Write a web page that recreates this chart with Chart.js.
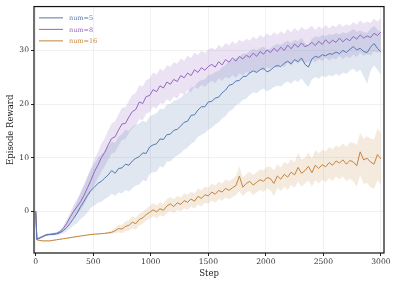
<!DOCTYPE html>
<html>
<head>
<meta charset="utf-8">
<script src="https://cdn.jsdelivr.net/npm/chart.js@4.4.1/dist/chart.umd.min.js"></script>
<style>
  html, body { margin: 0; padding: 0; background: #fff; }
  #wrap { width: 398px; height: 285px; }
</style>
</head>
<body>
<div id="wrap"><canvas id="rewardChart" width="398" height="285"></canvas></div>
<script>
// Training steps (x values shared by all runs)
const steps = [0, 10,
  30, 60, 90, 120, 150, 180, 210, 240, 270, 300,
  330, 360, 390, 420, 450, 480, 510, 540, 570, 600,
  630, 660, 690, 720, 750, 780, 810, 840, 870, 900,
  930, 960, 990, 1020, 1050, 1080, 1110, 1140, 1170, 1200,
  1230, 1260, 1290, 1320, 1350, 1380, 1410, 1440, 1470, 1500,
  1530, 1560, 1590, 1620, 1650, 1680, 1710, 1740, 1770, 1800,
  1830, 1860, 1890, 1920, 1950, 1980, 2010, 2040, 2070, 2100,
  2130, 2160, 2190, 2220, 2250, 2280, 2310, 2340, 2370, 2400,
  2430, 2460, 2490, 2520, 2550, 2580, 2610, 2640, 2670, 2700,
  2730, 2760, 2790, 2820, 2850, 2880, 2910, 2940, 2970, 3000];

// num=5
const num5Mean = [0, -5.2,
  -5.0, -4.7, -4.4, -4.3, -4.3, -4.2, -4.0, -3.6, -3.0, -2.2,
  -1.3, -0.3, 0.9, 1.9, 3.0, 3.9, 4.5, 5.2, 5.6, 6.2,
  6.8, 7.6, 7.1, 8.0, 8.1, 8.8, 8.6, 9.4, 9.9, 10.2,
  10.9, 10.8, 12.0, 12.4, 12.6, 13.5, 13.4, 14.3, 14.4, 15.1,
  15.3, 15.9, 16.6, 16.8, 17.9, 18.0, 18.9, 19.5, 19.5, 20.4,
  20.5, 21.1, 21.3, 22.1, 22.6, 23.5, 23.7, 24.3, 24.4, 25.1,
  25.2, 25.8, 26.2, 25.9, 26.4, 26.7, 26.0, 26.3, 26.9, 27.2,
  27.0, 27.6, 28.0, 27.5, 28.3, 27.9, 28.6, 27.4, 26.9, 28.4,
  28.9, 28.7, 29.2, 29.0, 29.4, 29.3, 29.7, 29.4, 30.0, 29.6,
  30.2, 30.7, 30.1, 30.4, 29.8, 29.6, 30.6, 31.3, 30.4, 29.7];
const num5Low = [0, -5.4,
  -5.2, -4.9, -4.6, -4.5, -4.5, -4.4, -4.3, -4.1, -3.7, -3.2,
  -2.6, -2.2, -1.4, -0.9, -0.2, 0.7, 1.1, 1.6, 1.8, 2.3,
  2.7, 3.3, 2.9, 3.5, 3.4, 4.0, 3.7, 4.3, 4.8, 5.0,
  5.8, 5.6, 7.0, 7.3, 7.4, 8.4, 8.2, 9.3, 9.3, 10.0,
  10.4, 10.9, 11.5, 11.9, 12.6, 13.0, 13.9, 14.3, 14.6, 15.2,
  15.6, 16.2, 16.6, 17.3, 17.8, 18.6, 19.0, 19.8, 20.1, 20.8,
  21.0, 21.7, 22.2, 22.0, 22.6, 22.9, 22.4, 22.7, 23.2, 23.4,
  23.3, 23.9, 24.2, 23.8, 24.5, 24.1, 24.8, 23.9, 23.2, 24.6,
  25.0, 24.7, 25.3, 25.0, 25.4, 25.2, 25.6, 25.3, 25.9, 25.6,
  26.2, 26.6, 26.0, 26.4, 25.2, 23.8, 26.2, 27.2, 26.4, 25.5];
const num5High = [0, -5.0,
  -4.8, -4.5, -4.2, -4.1, -4.1, -3.9, -3.6, -3.0, -2.1, -0.9,
  0.6, 1.9, 3.6, 5.0, 6.6, 7.9, 8.9, 10.0, 10.6, 11.3,
  12.1, 13.0, 12.8, 13.9, 14.4, 15.2, 15.0, 15.8, 16.1, 16.4,
  16.9, 16.6, 17.7, 18.0, 18.3, 19.2, 19.0, 19.9, 20.0, 20.6,
  20.8, 21.2, 21.9, 22.2, 23.1, 23.3, 24.1, 24.5, 24.6, 25.4,
  25.5, 26.0, 26.2, 26.8, 27.3, 28.0, 28.2, 28.6, 28.8, 29.4,
  29.4, 29.9, 30.3, 30.0, 30.5, 30.7, 30.1, 30.4, 30.9, 31.2,
  31.0, 31.5, 31.8, 31.4, 32.0, 31.7, 32.3, 31.4, 30.9, 32.2,
  32.6, 32.5, 32.9, 32.7, 33.0, 32.9, 33.2, 33.0, 33.4, 33.1,
  33.6, 34.0, 33.5, 33.7, 33.4, 33.3, 34.0, 34.6, 33.9, 33.4];

// num=8
const num8Mean = [0, -5.2,
  -5.0, -4.7, -4.4, -4.3, -4.2, -4.1, -3.8, -3.2, -2.2, -1.0,
  0.0, 0.9, 1.8, 3.0, 4.4, 5.8, 7.4, 8.6, 10.0, 11.0,
  12.4, 13.6, 13.9, 15.2, 16.3, 16.4, 17.6, 18.6, 19.0, 20.4,
  20.1, 21.4, 21.6, 22.7, 22.3, 23.4, 23.0, 24.1, 23.7, 24.6,
  24.2, 25.3, 24.9, 25.8, 25.3, 26.4, 25.9, 26.8, 26.3, 27.0,
  27.4, 26.9, 27.9, 27.3, 28.3, 27.8, 28.6, 28.0, 28.9, 28.4,
  29.1, 28.7, 29.5, 28.9, 29.8, 29.3, 30.1, 29.6, 30.4, 29.8,
  30.6, 30.0, 31.0, 30.3, 31.2, 30.6, 31.4, 30.7, 31.0, 31.5,
  30.9, 31.7, 31.1, 32.0, 31.3, 31.9, 31.5, 32.3, 31.6, 32.2,
  31.8, 32.6, 32.1, 32.9, 32.3, 32.7, 32.4, 33.2, 32.8, 33.4];
const num8Low = [0, -5.4,
  -5.2, -4.9, -4.6, -4.5, -4.4, -4.3, -4.1, -3.7, -2.9, -2.0,
  -1.2, -0.5, 0.2, 1.2, 2.5, 3.6, 5.0, 6.2, 7.4, 8.4,
  9.6, 10.8, 11.0, 12.3, 13.3, 13.5, 14.6, 15.5, 16.0, 17.2,
  17.0, 18.2, 18.5, 19.5, 19.2, 20.2, 20.0, 20.9, 20.5, 21.4,
  21.0, 22.1, 21.8, 22.6, 22.2, 23.2, 22.8, 23.6, 23.2, 23.9,
  24.3, 23.9, 24.8, 24.3, 25.1, 24.7, 25.4, 24.9, 25.7, 25.3,
  26.0, 25.6, 26.3, 25.8, 26.6, 26.2, 26.9, 26.5, 27.2, 26.7,
  27.4, 26.9, 27.7, 27.1, 28.0, 27.5, 28.1, 27.6, 27.8, 28.2,
  27.8, 28.4, 28.0, 28.7, 28.1, 28.6, 28.3, 29.0, 28.4, 28.9,
  28.6, 29.2, 28.8, 29.5, 29.0, 29.3, 29.1, 29.8, 29.5, 30.0];
const num8High = [0, -5.0,
  -4.8, -4.5, -4.2, -4.1, -4.0, -3.9, -3.5, -2.7, -1.5, -0.1,
  1.2, 2.3, 3.4, 4.8, 6.3, 8.0, 9.8, 11.0, 12.6, 13.6,
  15.1, 16.4, 16.8, 18.1, 19.3, 19.4, 20.6, 21.7, 22.1, 23.5,
  23.3, 24.5, 24.7, 25.9, 25.5, 26.6, 26.2, 27.3, 26.9, 27.8,
  27.5, 28.5, 28.1, 29.0, 28.6, 29.6, 29.1, 30.0, 29.5, 30.2,
  30.5, 30.1, 31.0, 30.5, 31.4, 30.9, 31.7, 31.2, 32.0, 31.6,
  32.2, 31.8, 32.6, 32.1, 32.9, 32.4, 33.2, 32.7, 33.4, 32.9,
  33.6, 33.1, 34.0, 33.4, 34.2, 33.6, 34.4, 33.8, 34.1, 34.6,
  33.8, 34.5, 34.0, 34.8, 34.1, 34.7, 34.3, 35.0, 34.4, 34.9,
  34.6, 35.3, 34.8, 35.6, 35.0, 35.4, 35.1, 35.9, 35.4, 36.0];

// num=16
const num16Mean = [0, -5.3,
  -5.4, -5.5, -5.5, -5.5, -5.4, -5.3, -5.2, -5.1, -5.0, -4.9,
  -4.8, -4.7, -4.6, -4.5, -4.4, -4.3, -4.25, -4.2, -4.15, -4.1,
  -4.0, -3.9, -3.6, -3.2, -3.3, -2.8, -2.6, -2.0, -2.3, -1.5,
  -1.2, -0.6, -0.2, 0.3, -0.1, 0.5, 0.2, 1.0, 1.4, 0.9,
  1.6, 1.3, 2.0, 1.7, 2.3, 1.9, 2.8, 2.4, 3.1, 2.9,
  3.6, 3.2, 3.9, 3.6, 4.3, 3.9, 4.4, 4.8, 6.6, 4.5,
  5.2, 5.6, 4.9, 5.4, 5.9, 5.6, 6.3, 6.1, 5.2, 6.6,
  6.0, 6.9, 6.4, 7.3, 6.8, 8.2, 7.1, 7.6, 8.4, 7.2,
  8.6, 8.0, 8.7, 8.3, 9.1, 8.6, 9.4, 9.0, 9.6, 8.8,
  9.5, 9.2, 8.5, 11.1, 9.6, 9.9, 9.2, 8.8, 10.6, 9.8];
const num16Low = [0, -5.4,
  -5.5, -5.6, -5.6, -5.6, -5.5, -5.4, -5.3, -5.2, -5.1, -5.0,
  -4.9, -4.8, -4.7, -4.6, -4.5, -4.4, -4.35, -4.3, -4.25, -4.2,
  -4.2, -4.2, -4.1, -3.9, -4.1, -3.7, -3.6, -3.1, -3.4, -2.6,
  -2.3, -1.7, -1.4, -0.9, -1.3, -0.7, -1.0, -0.3, 0.1, -0.4,
  0.3, 0.0, 0.6, 0.3, 0.9, 0.5, 1.3, 0.9, 1.6, 1.4,
  2.0, 1.6, 2.3, 2.0, 2.6, 2.2, 2.7, 3.0, 3.8, 2.8,
  3.5, 3.8, 3.0, 3.5, 4.0, 3.6, 4.3, 3.9, 2.8, 4.4,
  3.8, 4.6, 4.0, 4.9, 4.4, 5.5, 4.6, 5.2, 5.8, 4.6,
  5.8, 5.2, 5.9, 5.4, 6.2, 5.6, 6.5, 6.0, 6.5, 5.6,
  6.1, 5.6, 4.6, 6.8, 5.1, 5.3, 4.5, 4.2, 5.8, 5.0];
const num16High = [0, -5.2,
  -5.3, -5.4, -5.4, -5.4, -5.3, -5.2, -5.1, -5.0, -4.9, -4.8,
  -4.7, -4.6, -4.5, -4.4, -4.3, -4.2, -4.15, -4.1, -4.05, -4.0,
  -3.8, -3.6, -3.1, -2.5, -2.5, -1.9, -1.6, -0.9, -1.2, -0.4,
  -0.1, 0.5, 1.0, 1.5, 1.1, 1.7, 1.4, 2.3, 2.7, 2.2,
  2.9, 2.6, 3.4, 3.1, 3.7, 3.3, 4.3, 3.9, 4.6, 4.4,
  5.2, 4.8, 5.5, 5.2, 6.0, 5.6, 6.1, 6.6, 8.4, 6.2,
  6.9, 7.4, 6.8, 7.3, 7.8, 7.6, 8.3, 8.3, 7.6, 8.8,
  8.2, 9.2, 8.8, 9.7, 9.2, 10.9, 9.6, 10.0, 11.0, 9.8,
  11.4, 10.8, 11.5, 11.2, 12.0, 11.6, 12.3, 12.0, 12.7, 12.0,
  12.9, 12.8, 12.4, 14.6, 13.5, 14.0, 13.6, 13.4, 15.4, 14.6];

const seriesNames = ['num=5', 'num=8', 'num=16'];
const lineColors = ['#5578b0', '#9467bd', '#c4843e'];
const bandColors = ['rgba(85,120,176,0.18)', 'rgba(148,103,189,0.19)', 'rgba(196,132,62,0.17)'];
const xTicks = [0, 500, 1000, 1500, 2000, 2500, 3000];
const yTicks = [0, 10, 20, 30];

const means = [num5Mean, num8Mean, num16Mean];
const lows = [num5Low, num8Low, num16Low];
const highs = [num5High, num8High, num16High];

const pts = arr => steps.map((s, i) => ({x: s, y: arr[i]}));

const datasets = [];
means.forEach((m, k) => {
    const lowIndex = datasets.length;
    datasets.push({
        data: pts(lows[k]), borderWidth: 0, pointRadius: 0,
        fill: false, order: 2
    });
    datasets.push({
        data: pts(highs[k]), borderWidth: 0, pointRadius: 0,
        backgroundColor: bandColors[k], fill: {target: lowIndex}, order: 2
    });
});
means.forEach((m, k) => {
    datasets.push({
        label: seriesNames[k], data: pts(m), borderColor: lineColors[k],
        borderWidth: 1, pointRadius: 0, fill: false, order: 0
    });
});

// frame around the plot + legend in the upper left corner
const frameLegend = {
    id: 'frameLegend',
    afterDraw(chart) {
        const {ctx, chartArea: a} = chart;
        ctx.save();
        ctx.strokeStyle = '#111';
        ctx.lineWidth = 1.2;
        ctx.strokeRect(a.left, a.top, a.right - a.left, a.bottom - a.top);
        ctx.font = '6.5px "DejaVu Serif"';
        ctx.textBaseline = 'middle';
        seriesNames.forEach((name, i) => {
            const y = a.top + 11.3 + i * 11.5;
            ctx.strokeStyle = lineColors[i];
            ctx.lineWidth = 1;
            ctx.beginPath();
            ctx.moveTo(a.left + 5, y);
            ctx.lineTo(a.left + 29, y);
            ctx.stroke();
            ctx.fillStyle = lineColors[i];
            ctx.fillText(name, a.left + 35, y + 0.5);
        });
        ctx.restore();
    }
};

const tickFont = {family: 'DejaVu Serif', size: 7.6};
const titleFont = {family: 'DejaVu Serif', size: 8.5};

new Chart(document.getElementById('rewardChart'), {
    type: 'line',
    data: {datasets: datasets},
    options: {
        responsive: false,
        animation: false,
        layout: {padding: {top: 6, right: 14, left: 0, bottom: 0}},
        plugins: {legend: {display: false}, tooltip: {enabled: false}},
        scales: {
            x: {
                type: 'linear', min: -15, max: 3027,
                afterBuildTicks: s => { s.ticks = xTicks.map(v => ({value: v})); },
                afterFit: s => { s.height = 32; },
                ticks: {font: tickFont, color: '#333', padding: 1, maxRotation: 0, callback: v => String(v)},
                grid: {color: '#eeeeee', lineWidth: 0.8, tickLength: 3, tickColor: '#222', tickWidth: 1},
                border: {display: false},
                title: {display: true, text: 'Step', font: titleFont, color: '#222', padding: {top: 0, bottom: 6}}
            },
            y: {
                min: -7.76, max: 38.18,
                afterBuildTicks: s => { s.ticks = yTicks.map(v => ({value: v})); },
                afterFit: s => { s.width = 34; },
                ticks: {font: tickFont, color: '#333', padding: 2, callback: v => String(v)},
                grid: {color: '#eeeeee', lineWidth: 0.8, tickLength: 3, tickColor: '#222', tickWidth: 1},
                border: {display: false},
                title: {display: true, text: 'Episode Reward', font: titleFont, color: '#222', padding: {top: 6, bottom: 0}}
            }
        }
    },
    plugins: [frameLegend]
});
</script>
</body>
</html>
